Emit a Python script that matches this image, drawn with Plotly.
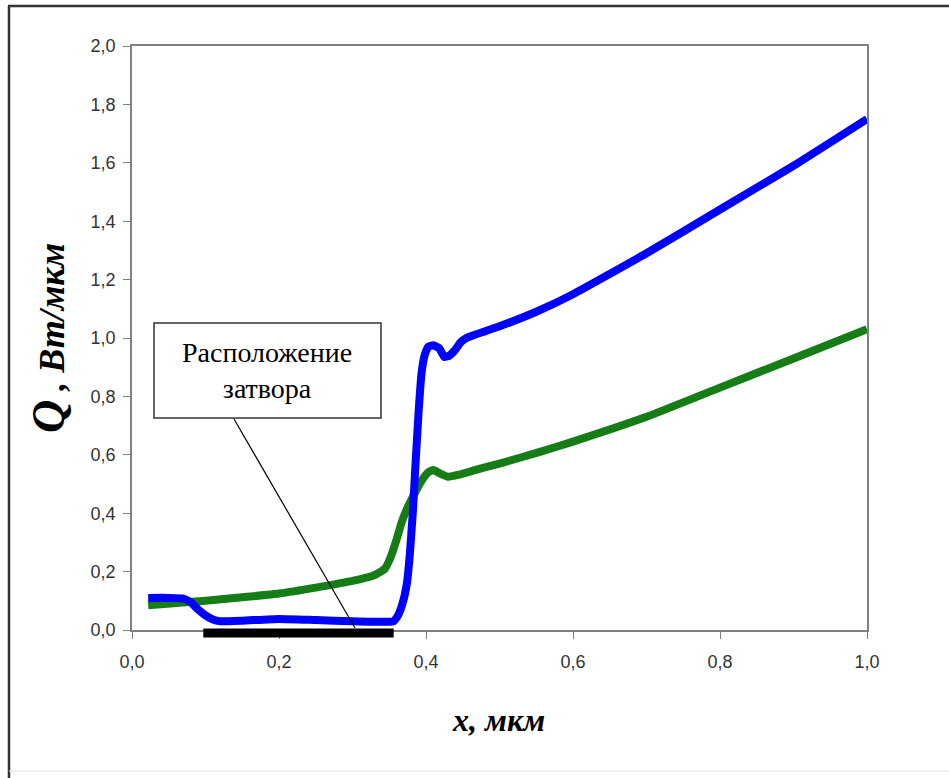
import plotly.graph_objects as go

# Blue curve (Q, Вт/мкм)
blue_x = [0.022, 0.05, 0.069, 0.08, 0.09, 0.10, 0.11, 0.12, 0.15, 0.2, 0.25, 0.3, 0.35, 0.356, 0.362, 0.368,
          0.374, 0.378, 0.382, 0.386, 0.39, 0.394, 0.398, 0.403, 0.41, 0.418, 0.425, 0.432, 0.44, 0.447,
          0.455, 0.5, 0.55, 0.6, 0.7, 0.8, 0.9, 1.0]
blue_y = [0.11, 0.11, 0.108, 0.095, 0.07, 0.05, 0.036, 0.03, 0.032, 0.038, 0.034, 0.03, 0.028, 0.03, 0.05, 0.09,
          0.16, 0.26, 0.40, 0.58, 0.75, 0.88, 0.94, 0.97, 0.975, 0.965, 0.935, 0.94, 0.96, 0.985,
          1.0, 1.04, 1.09, 1.15, 1.29, 1.44, 1.59, 1.75]

# Green curve
green_x = [0.022, 0.1, 0.15, 0.2, 0.25, 0.3, 0.33, 0.344, 0.352, 0.36, 0.367, 0.375, 0.385, 0.395, 0.403,
           0.41, 0.42, 0.43, 0.445, 0.47, 0.5, 0.555, 0.6, 0.7, 0.8, 0.9, 1.0]
green_y = [0.085, 0.10, 0.112, 0.125, 0.145, 0.168, 0.188, 0.21, 0.25, 0.31, 0.37, 0.42, 0.47, 0.515, 0.54,
           0.548, 0.535, 0.525, 0.532, 0.55, 0.57, 0.61, 0.645, 0.73, 0.83, 0.93, 1.03]

# Gate location bar
gate_x = [0.097, 0.356]
gate_y = [-0.01, -0.01]

x_ticks = [0.0, 0.2, 0.4, 0.6, 0.8, 1.0]
x_tick_labels = ["0,0", "0,2", "0,4", "0,6", "0,8", "1,0"]
y_ticks = [0.0, 0.2, 0.4, 0.6, 0.8, 1.0, 1.2, 1.4, 1.6, 1.8, 2.0]
y_tick_labels = ["0,0", "0,2", "0,4", "0,6", "0,8", "1,0", "1,2", "1,4", "1,6", "1,8", "2,0"]

W, H = 949, 778
L, R, T, B = 132, 867, 46, 630   # main plot area in pixels
EXTRA = 14                        # extra room below the axis for the unclipped gate bar
BB = B + EXTRA
Y_MAX = 2.0
ppu = (B - T) / Y_MAX             # pixels per y unit
dom0 = EXTRA / (BB - T)


def px(xp):
    return (xp - L) / (R - L)


def py(yp):
    return (BB - yp) / (BB - T)


fig = go.Figure()
fig.add_trace(go.Scatter(x=green_x, y=green_y, mode="lines",
                         line=dict(color="#167d16", width=8, shape="spline", smoothing=0.4),
                         showlegend=False))
fig.add_trace(go.Scatter(x=blue_x, y=blue_y, mode="lines",
                         line=dict(color="#0000ff", width=8, shape="spline", smoothing=0.4),
                         showlegend=False))
fig.add_trace(go.Scatter(x=gate_x, y=gate_y, mode="lines", yaxis="y2",
                         line=dict(color="black", width=9), showlegend=False))

axis_common = dict(showgrid=False, zeroline=False, showline=True, linecolor="#808080",
                   linewidth=1.5, ticks="outside", tickcolor="#808080", ticklen=7,
                   tickfont=dict(family="Liberation Sans, Arial", size=18, color="#333333"),
                   mirror=True)

fig.update_layout(
    xaxis=dict(range=[0, 1.0], tickvals=x_ticks, ticktext=x_tick_labels,
               ticklabelstandoff=8, anchor="y", **axis_common),
    yaxis=dict(range=[0, Y_MAX], tickvals=y_ticks, ticktext=y_tick_labels,
               domain=[dom0, 1], ticklabelstandoff=4, **axis_common),
    yaxis2=dict(range=[-EXTRA / ppu, Y_MAX], domain=[0, 1], anchor="x",
                visible=False, showgrid=False, zeroline=False),
)

shapes = [
    # outer frame
    dict(type="line", xref="paper", yref="paper", x0=px(9), x1=px(9), y0=py(6), y1=py(778),
         line=dict(color="#333333", width=2.5)),
    dict(type="line", xref="paper", yref="paper", x0=px(8), x1=px(949), y0=py(6), y1=py(6),
         line=dict(color="#333333", width=2.5)),
    dict(type="line", xref="paper", yref="paper", x0=px(9), x1=px(949), y0=py(771), y1=py(771),
         line=dict(color="#e4e4e4", width=1)),
    # annotation box
    dict(type="rect", xref="paper", yref="paper", x0=px(154), x1=px(381), y0=py(323), y1=py(418),
         line=dict(color="#333333", width=1.5), fillcolor="white"),
    # pointer line
    dict(type="line", xref="paper", yref="paper", x0=px(234), x1=px(355), y0=py(419), y1=py(628),
         line=dict(color="black", width=1.2)),
]

annotations = [
    dict(text="Расположение<br>затвора", xref="paper", yref="paper", x=px(267), y=py(370),
         showarrow=False, font=dict(family="Liberation Serif, Times New Roman", size=28, color="black"),
         align="center", xanchor="center", yanchor="middle"),
    dict(text="<b><i>x, мкм</i></b>", xref="paper", yref="paper", x=px(498), y=py(720),
         showarrow=False, font=dict(family="Liberation Serif, Times New Roman", size=32, color="black"),
         xanchor="center", yanchor="middle"),
    dict(text="<b><i><span style='font-size:46px'>Q</span> , Вт/мкм</i></b>", xref="paper", yref="paper",
         x=px(48), y=py(338), textangle=-90,
         showarrow=False, font=dict(family="Liberation Serif, Times New Roman", size=36, color="black"),
         xanchor="center", yanchor="middle"),
]

fig.update_layout(width=W, height=H, margin=dict(l=L, r=W - R, t=T, b=H - BB),
                  plot_bgcolor="rgba(0,0,0,0)", paper_bgcolor="white",
                  shapes=shapes, annotations=annotations)

fig.write_html("out.html")
